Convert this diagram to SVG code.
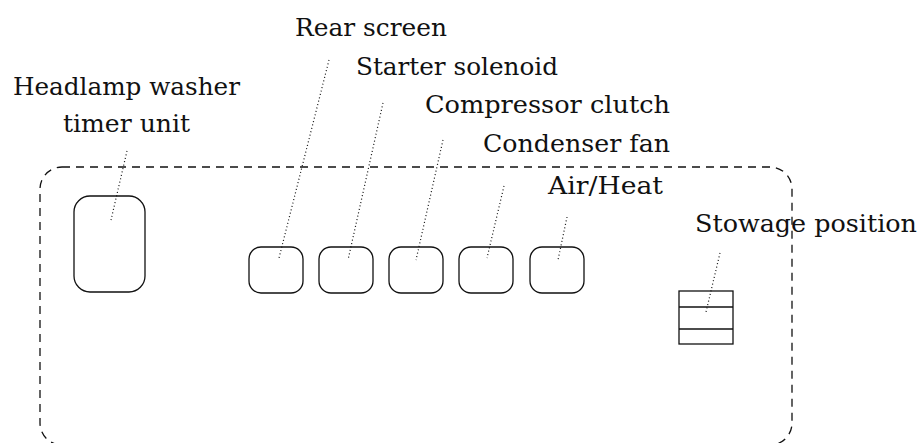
<svg xmlns="http://www.w3.org/2000/svg" width="920" height="443" viewBox="0 0 920 443">
<style>
.lbl{font-family:"DejaVu Serif","Liberation Serif",serif;font-size:24px;fill:#111}
.box{fill:none;stroke:#111;stroke-width:1.3}
.lead{fill:none;stroke:#111;stroke-width:1.2;stroke-dasharray:1 2.5}
.panel{fill:none;stroke:#111;stroke-width:1.3;stroke-dasharray:8 6}
</style>
<rect fill="#fff" width="920" height="443"/>
<g id="panel"><rect class="panel" x="40" y="167" width="752" height="278" rx="22" ry="22"/></g>
<g id="headlamp"><rect class="box" x="74" y="196" width="71" height="96" rx="16"/>
<text class="lbl" x="13" y="95" textLength="227" lengthAdjust="spacingAndGlyphs">Headlamp washer</text>
<text class="lbl" x="63" y="132" textLength="127" lengthAdjust="spacingAndGlyphs">timer unit</text></g>
<g id="rear"><rect class="box" x="249" y="247" width="54" height="46" rx="12"/>
<text class="lbl" x="295" y="36" textLength="152" lengthAdjust="spacingAndGlyphs">Rear screen</text></g>
<g id="starter"><rect class="box" x="319" y="247" width="54" height="46" rx="12"/>
<text class="lbl" x="356" y="75" textLength="202" lengthAdjust="spacingAndGlyphs">Starter solenoid</text></g>
<g id="compressor"><rect class="box" x="389" y="247" width="54" height="46" rx="12"/>
<text class="lbl" x="425" y="113" textLength="245" lengthAdjust="spacingAndGlyphs">Compressor clutch</text></g>
<g id="condenser"><rect class="box" x="459" y="247" width="54" height="46" rx="12"/>
<text class="lbl" x="483" y="152" textLength="187" lengthAdjust="spacingAndGlyphs">Condenser fan</text></g>
<g id="airheat"><rect class="box" x="530" y="247" width="54" height="46" rx="12"/>
<text class="lbl" x="548" y="194" textLength="115" lengthAdjust="spacingAndGlyphs">Air/Heat</text></g>
<g id="stowage"><rect class="box" x="679" y="291" width="54" height="53"/>
<line class="box" x1="679" y1="307" x2="733" y2="307"/>
<line class="box" x1="679" y1="329" x2="733" y2="329"/>
<text class="lbl" x="695" y="232" textLength="222" lengthAdjust="spacingAndGlyphs">Stowage position</text></g>
<g id="connectors">
<line class="lead" x1="127" y1="151" x2="111" y2="220"/>
<line class="lead" x1="329" y1="60" x2="279" y2="258"/>
<line class="lead" x1="383" y1="103" x2="348" y2="260"/>
<line class="lead" x1="443" y1="140" x2="416" y2="260"/>
<line class="lead" x1="504" y1="186" x2="487" y2="258"/>
<line class="lead" x1="567" y1="217" x2="558" y2="260"/>
<line class="lead" x1="720" y1="253" x2="706" y2="312"/>
</g>
</svg>
